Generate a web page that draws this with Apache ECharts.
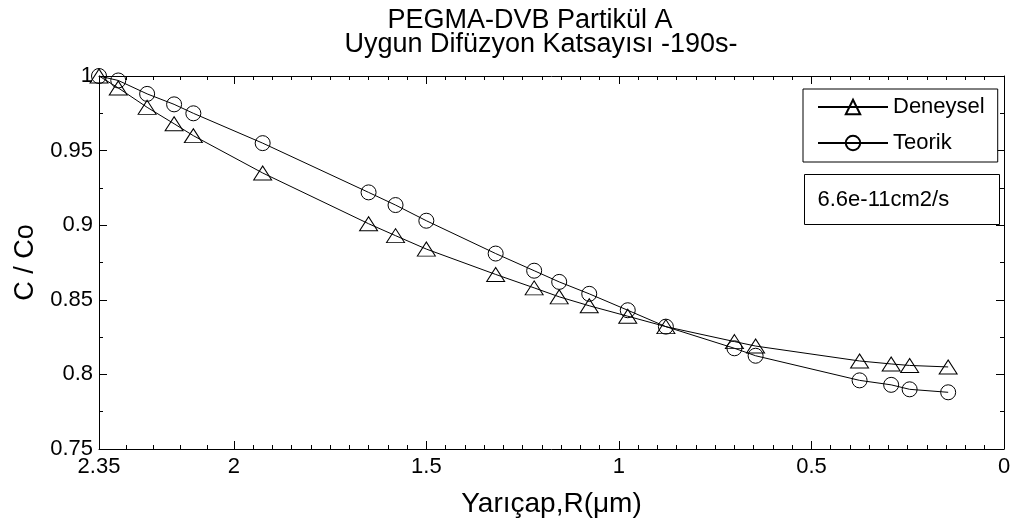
<!DOCTYPE html>
<html>
<head>
<meta charset="utf-8">
<script src="https://cdn.jsdelivr.net/npm/echarts@6/dist/echarts.min.js"></script>
<style>
  html, body { margin: 0; padding: 0; background: #fff; }
  #chart { width: 1016px; height: 526px; }
</style>
</head>
<body>
<div id="chart"></div>
<script>
// Radius (µm) of each measurement point, from the particle surface inward
const radius = [2.35, 2.30, 2.225, 2.155, 2.105, 1.925, 1.65, 1.58, 1.50, 1.32, 1.22,
                1.155, 1.077, 0.977, 0.878, 0.70, 0.645, 0.375, 0.293, 0.245, 0.145];
// Measured normalised concentration C/Co
const deneysel = [1.0, 0.992, 0.979, 0.968, 0.960, 0.935, 0.901, 0.893, 0.884, 0.867, 0.858,
                  0.852, 0.846, 0.839, 0.832, 0.822, 0.819, 0.809, 0.807, 0.806, 0.805];
// Model curve for the fitted diffusion coefficient
const teorik = [1.0, 0.997, 0.988, 0.981, 0.975, 0.955, 0.922, 0.9135, 0.903, 0.881, 0.8695,
                0.862, 0.854, 0.843, 0.832, 0.8175, 0.8125, 0.796, 0.793, 0.790, 0.788];

const seriesNames = ['Deneysel', 'Teorik'];
const titleLines = ['PEGMA-DVB Partikül A', 'Uygun Difüzyon Katsayısı -190s-'];
const xAxisName = 'Yarıçap,R(μm)';
const yAxisName = 'C / Co';
const diffusionNote = '6.6e-11cm2/s';

const xMin = 0, xMax = 2.35, xStep = 0.5;
const yMin = 0.75, yMax = 1, yStep = 0.05;

// Minor tick positions along the radius axis: five steps in the short
// outer interval, 0.05 steps elsewhere
function minorX() {
  const out = [];
  for (let k = 1; k < 5; k++) out.push(+(2.35 - k * 0.07).toFixed(3));
  for (let v = 1.95; v > 0.01; v -= 0.05) {
    const r = +v.toFixed(2);
    if (Math.abs(r / 0.5 - Math.round(r / 0.5)) > 1e-6) out.push(r);
  }
  return out;
}

const FONT = 'Liberation Sans, Arial, Helvetica, sans-serif';
const black = '#000';
const gridBox = { left: 99, right: 12, top: 76, bottom: 77 };

const chart = echarts.init(document.getElementById('chart'), null, { renderer: 'canvas' });

function xAxisDef(extra) {
  return Object.assign({
    type: 'value', min: xMin, max: xMax, interval: xStep, inverse: true,
    splitLine: { show: false }
  }, extra);
}
function yAxisDef(extra) {
  return Object.assign({
    type: 'value', min: yMin, max: yMax, interval: yStep,
    splitLine: { show: false }
  }, extra);
}
function frameLine() {
  return { show: true, onZero: false, lineStyle: { color: black, width: 1 } };
}
function majorTick() {
  return { show: true, inside: true, length: 8, lineStyle: { color: black, width: 1 } };
}
function minorXTick() {
  return { show: true, inside: true, length: 4, customValues: minorX(),
           lineStyle: { color: black, width: 1 } };
}
function minorYTick() {
  return { show: true, splitNumber: 2, length: 4, lineStyle: { color: black, width: 1 } };
}

chart.setOption({
  animation: false,
  backgroundColor: '#fff',
  textStyle: { fontFamily: FONT, color: black },
  title: [
    { text: titleLines[0], left: 525, top: 2, textAlign: 'center',
      textStyle: { fontFamily: FONT, fontSize: 27, fontWeight: 'normal', color: black } },
    { text: titleLines[1], left: 536, top: 26, textAlign: 'center',
      textStyle: { fontFamily: FONT, fontSize: 27, fontWeight: 'normal', color: black } }
  ],
  grid: [
    Object.assign({ show: false }, gridBox),
    Object.assign({ show: false }, gridBox)
  ],
  legend: {
    orient: 'vertical', left: 803, top: 89,
    padding: [7, 13, 8, 14], itemGap: 14,
    itemWidth: 70, itemHeight: 18,
    borderColor: black, borderWidth: 1, backgroundColor: '#fff',
    textStyle: { fontFamily: FONT, fontSize: 22, color: black },
    data: seriesNames
  },
  xAxis: [
    xAxisDef({
      gridIndex: 0, position: 'bottom',
      name: xAxisName, nameLocation: 'middle', nameGap: 41,
      nameTextStyle: { fontFamily: FONT, fontSize: 28, color: black },
      axisLine: frameLine(), axisTick: majorTick(),
      axisLabel: { show: true, margin: 7, fontFamily: FONT, fontSize: 22, color: black,
                   showMaxLabel: true, showMinLabel: true }
    }),
    xAxisDef({
      gridIndex: 0, position: 'top',
      axisLine: frameLine(), axisTick: majorTick(), axisLabel: { show: false }
    }),
    xAxisDef({
      gridIndex: 1, position: 'bottom',
      axisLine: { show: false, onZero: false }, axisTick: minorXTick(), axisLabel: { show: false }
    }),
    xAxisDef({
      gridIndex: 1, position: 'top',
      axisLine: { show: false, onZero: false }, axisTick: minorXTick(), axisLabel: { show: false }
    })
  ],
  yAxis: [
    yAxisDef({
      gridIndex: 0, position: 'left',
      name: yAxisName, nameLocation: 'middle', nameGap: 58,
      nameTextStyle: { fontFamily: FONT, fontSize: 27, color: black },
      axisLine: frameLine(), axisTick: majorTick(), minorTick: minorYTick(),
      axisLabel: { show: true, margin: 6, fontFamily: FONT, fontSize: 22, color: black }
    }),
    yAxisDef({
      gridIndex: 0, position: 'right',
      axisLine: frameLine(), axisTick: majorTick(), minorTick: minorYTick(),
      axisLabel: { show: false }
    }),
    yAxisDef({
      gridIndex: 1, position: 'left',
      axisLine: { show: false, onZero: false }, axisTick: { show: false }, axisLabel: { show: false }
    })
  ],
  graphic: [
    {
      type: 'group', left: 804, top: 174,
      children: [
        { type: 'rect', shape: { x: 0, y: 0, width: 195, height: 50 },
          style: { fill: '#fff', stroke: black, lineWidth: 1 } },
        { type: 'text', x: 13, y: 25,
          style: { text: diffusionNote, fontFamily: FONT, fontSize: 22, fill: black,
                   verticalAlign: 'middle' } }
      ]
    }
  ],
  series: [
    {
      name: seriesNames[0], type: 'line', xAxisIndex: 0, yAxisIndex: 0,
      data: radius.map((r, i) => [r, deneysel[i]]),
      symbol: 'triangle', symbolSize: [18, 14],
      lineStyle: { color: black, width: 1 },
      itemStyle: { color: 'rgba(0,0,0,0)', borderColor: black, borderWidth: 1 },
      z: 3
    },
    {
      name: seriesNames[1], type: 'line', xAxisIndex: 0, yAxisIndex: 0,
      data: radius.map((r, i) => [r, teorik[i]]),
      symbol: 'circle', symbolSize: 15,
      lineStyle: { color: black, width: 1 },
      itemStyle: { color: 'rgba(0,0,0,0)', borderColor: black, borderWidth: 1 },
      z: 3
    }
  ]
});
</script>
</body>
</html>
